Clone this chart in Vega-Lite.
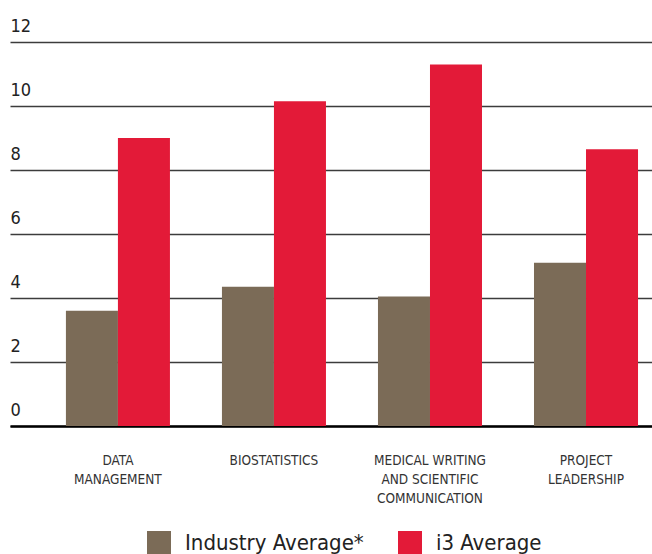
{
  "$schema": "https://vega.github.io/schema/vega-lite/v6.json",
  "width": 642,
  "height": 384,
  "autosize": "none",
  "padding": {"left": 10, "top": 42, "right": 0, "bottom": 128},
  "background": "white",
  "config": {
    "view": {"stroke": null},
    "font": "DejaVu Sans Condensed, Roboto, sans-serif"
  },
  "data": {
    "values": [
      {"skill": "DATA MANAGEMENT", "series": "Industry Average*", "value": 3.6},
      {"skill": "DATA MANAGEMENT", "series": "i3 Average", "value": 9.0},
      {"skill": "BIOSTATISTICS", "series": "Industry Average*", "value": 4.35},
      {"skill": "BIOSTATISTICS", "series": "i3 Average", "value": 10.15},
      {"skill": "MEDICAL WRITING AND SCIENTIFIC COMMUNICATION", "series": "Industry Average*", "value": 4.05},
      {"skill": "MEDICAL WRITING AND SCIENTIFIC COMMUNICATION", "series": "i3 Average", "value": 11.3},
      {"skill": "PROJECT LEADERSHIP", "series": "Industry Average*", "value": 5.1},
      {"skill": "PROJECT LEADERSHIP", "series": "i3 Average", "value": 8.65}
    ]
  },
  "mark": {"type": "bar"},
  "encoding": {
    "x": {
      "field": "skill",
      "type": "nominal",
      "sort": null,
      "scale": {"paddingInner": 0.3333, "paddingOuter": 0.224, "align": 0.8},
      "axis": {
        "title": null,
        "ticks": false,
        "domainColor": "#000000",
        "domainWidth": 2.5,
        "labelAngle": 0,
        "labelFontSize": 13.5,
        "labelColor": "#333333",
        "labelPadding": 27,
        "labelBaseline": "top",
        "labelLineHeight": 19,
        "labelExpr": "datum.value == 'DATA MANAGEMENT' ? ['DATA', 'MANAGEMENT'] : datum.value == 'MEDICAL WRITING AND SCIENTIFIC COMMUNICATION' ? ['MEDICAL WRITING', 'AND SCIENTIFIC', 'COMMUNICATION'] : datum.value == 'PROJECT LEADERSHIP' ? ['PROJECT', 'LEADERSHIP'] : datum.value"
      }
    },
    "xOffset": {
      "field": "series",
      "type": "nominal",
      "sort": ["Industry Average*", "i3 Average"],
      "scale": {"paddingInner": 0, "paddingOuter": 0}
    },
    "y": {
      "field": "value",
      "type": "quantitative",
      "scale": {"domain": [0, 12], "nice": false},
      "axis": {
        "title": null,
        "values": [0, 2, 4, 6, 8, 10, 12],
        "ticks": false,
        "domain": false,
        "gridColor": "#3c3c3c",
        "gridWidth": 1.5,
        "labelAlign": "left",
        "labelPadding": 0,
        "labelBaseline": "alphabetic",
        "labelOffset": -11,
        "labelFontSize": 18,
        "labelColor": "#222222"
      }
    },
    "color": {
      "field": "series",
      "type": "nominal",
      "sort": ["Industry Average*", "i3 Average"],
      "scale": {"domain": ["Industry Average*", "i3 Average"], "range": ["#7b6b57", "#e31a38"]},
      "legend": {
        "title": null,
        "orient": "none",
        "direction": "horizontal",
        "legendX": 137,
        "legendY": 489,
        "symbolType": "square",
        "symbolSize": 576,
        "symbolStrokeWidth": 0,
        "symbolOpacity": 1,
        "labelFontSize": 22,
        "labelColor": "#222222",
        "labelOffset": 14,
        "columnPadding": 34,
        "labelLimit": 400
      }
    }
  }
}
